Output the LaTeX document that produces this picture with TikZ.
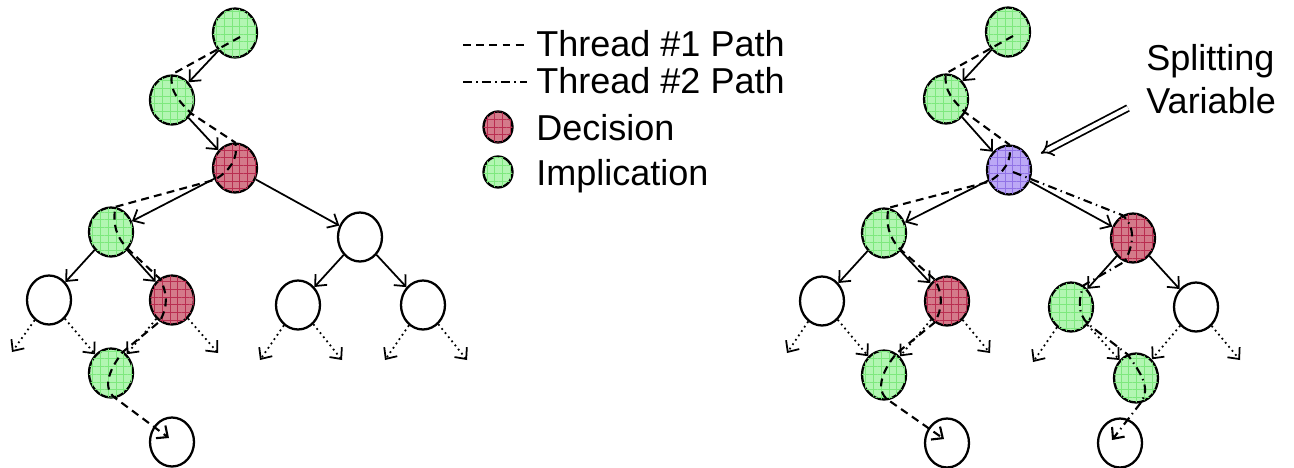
\documentclass[tikz,border=0pt]{standalone}
\usepackage{fontspec}
\setmainfont{Liberation Sans}
\usetikzlibrary{shapes.geometric,arrows.meta,patterns.meta}

\definecolor{decfill}{RGB}{212,122,138}
\definecolor{decgrid}{RGB}{185,45,80}
\definecolor{impfill}{RGB}{178,246,178}
\definecolor{impgrid}{RGB}{125,232,125}
\definecolor{splitfill}{RGB}{188,168,246}
\definecolor{splitgrid}{RGB}{145,115,230}

\begin{document}
\begin{tikzpicture}[x=0.02cm, y=0.02cm]
	\tikzstyle{var} = [ellipse, draw, line width=1.3pt, inner sep=0pt, minimum width=0.88cm, minimum height=0.98cm]
	\tikzstyle{decision} = [var, fill=decfill, postaction={pattern={Hatch[distance=4.4pt, line width=0.4pt]}, pattern color=decgrid}]
	\tikzstyle{implication} = [var, fill=impfill, postaction={pattern={Hatch[distance=4.4pt, line width=0.4pt]}, pattern color=impgrid}]
	\tikzstyle{splitvar} = [var, fill=splitfill, postaction={pattern={Hatch[distance=4.4pt, line width=0.4pt]}, pattern color=splitgrid}]
	\tikzstyle{keynode} = [minimum width=0.58cm, minimum height=0.62cm]
	\tikzstyle{keytext} = [anchor=base west, inner sep=0pt, font=\fontsize{20.5}{24.5}\selectfont]
	\tikzset{edge/.style = {line width=1pt, -{Straight Barb[length=5pt, width=9pt]}}}
	\tikzset{later/.style = {edge, dotted}}
	\tikzset{ends/.style = {-{Straight Barb[length=5pt, width=9pt]}}}
	\tikzset{thread1/.style = {line width=1.2pt, dash pattern=on 4.5pt off 3pt}}
	\tikzset{thread2/.style = {line width=1.2pt, dash pattern=on 5pt off 2.5pt on 0.8pt off 2.5pt}}
	\tikzset{splitarrow/.style = {double, line width=1pt, double distance=2.4pt, -{Implies}, shorten >=7pt}}

	\useasboundingbox (0,0) rectangle (1294,-467);

	% first search tree
	\node[implication](lA) at (235,-33) {};
	\node[implication](lB) at (172,-100) {};
	\node[decision](lC) at (235,-168) {};
	\node[implication](lD) at (111,-232) {};
	\node[var](lE) at (360,-237) {};
	\node[var](lF) at (49,-300) {};
	\node[decision](lG) at (172,-300) {};
	\node[var](lH) at (298,-305) {};
	\node[var](lI) at (423,-305) {};
	\node[implication](lJ) at (111,-373) {};
	\node[var](lK) at (172,-442) {};

	% second search tree, split at rC
	\node[implication](rA) at (1008,-32) {};
	\node[implication](rB) at (946,-99) {};
	\node[splitvar](rC) at (1009,-170) {};
	\node[implication](rD) at (884,-233) {};
	\node[decision](rE) at (1133,-238) {};
	\node[var](rF) at (822,-301) {};
	\node[decision](rG) at (947,-301) {};
	\node[implication](rH) at (1071,-307) {};
	\node[var](rI) at (1196,-307) {};
	\node[implication](rJ) at (884,-375) {};
	\node[var](rK) at (947,-443) {};
	\node[implication](rL) at (1136,-378) {};
	\node[var](rM) at (1120,-443) {};

	\foreach \side in {l,r} {
		\draw[edge](\side A) to (\side B);
		\draw[edge](\side B) to (\side C);
		\draw[edge](\side C) to (\side D);
		\draw[edge](\side C) to (\side E);
		\draw[edge](\side D) to (\side F);
		\draw[edge](\side D) to (\side G);
		\draw[edge](\side E) to (\side H);
		\draw[edge](\side E) to (\side I);
		\draw[later](\side F) to (\side J);
		\draw[later](\side G) to (\side J);
	}

	% open ends
	\coordinate (lFl) at (12,-352);
	\coordinate (lGr) at (218,-353);
	\coordinate (lHl) at (260,-360);
	\coordinate (lHr) at (342,-360);
	\coordinate (lIl) at (385,-360);
	\coordinate (lIr) at (467,-360);
	\coordinate (rFl) at (787,-353);
	\coordinate (rGr) at (990,-353);
	\coordinate (rHl) at (1033,-362);
	\coordinate (rIr) at (1240,-360);
	\draw[later](lF) to (lFl);
	\draw[later](lG) to (lGr);
	\draw[later](lH) to (lHl);
	\draw[later](lH) to (lHr);
	\draw[later](lI) to (lIl);
	\draw[later](lI) to (lIr);
	\draw[later](rF) to (rFl);
	\draw[later](rG) to (rGr);
	\draw[later](rH) to (rHl);
	\draw[later](rH) to (rL);
	\draw[later](rI) to (rL);
	\draw[later](rI) to (rIr);

	% thread 1 runs down the left side in both trees
	\foreach \side in {l,r}
		\draw[thread1, ends] ([shift={(5,-4)}]\side A.center) -- (\side B.north)
			to[out=-100, in=135] (\side B.-35) -- (\side C.north)
			to[out=-75, in=30] (\side C.-150) -- (\side D.80)
			to[out=-100, in=135] (\side D.-45) -- (\side G.120)
			to[out=-60, in=60] (\side G.-120) -- (\side J.60)
			to[out=-130, in=145] (\side J.-80) -- ([shift={(-3,4)}]\side K.center);

	% thread 2 takes the other branch
	\draw[thread2, ends] ([shift={(4,-2)}]rC.center) -- (rE.115)
		to[out=-40, in=60] (rE.-110) -- (rH.60)
		to[out=-110, in=135] (rH.-45) -- (rL.110)
		to[out=-55, in=53] (rL.-80) -- ([shift={(-8,3)}]rM.center);

	% legend
	\draw[thread1] (463,-45) -- +(64,0);
	\node[keytext](keyone) at (536,-56) {Thread \#1 Path};
	\draw[thread2] (463,-82) -- +(64,0);
	\node[keytext](keytwo) at (536,-93) {Thread \#2 Path};
	\node[decision, keynode](keydec) at (498,-127) {};
	\node[keytext](keydectext) at (536,-140) {Decision};
	\node[implication, keynode](keyimp) at (498,-172) {};
	\node[keytext](keyimptext) at (536,-185) {Implication};

	\node[keytext, anchor=west, align=left](splitlabel) at (1146,-79) {Splitting\\Variable};
	\coordinate (splitfrom) at (1128,-108);
	\draw[splitarrow](splitfrom) to (rC);
\end{tikzpicture}
\end{document}
